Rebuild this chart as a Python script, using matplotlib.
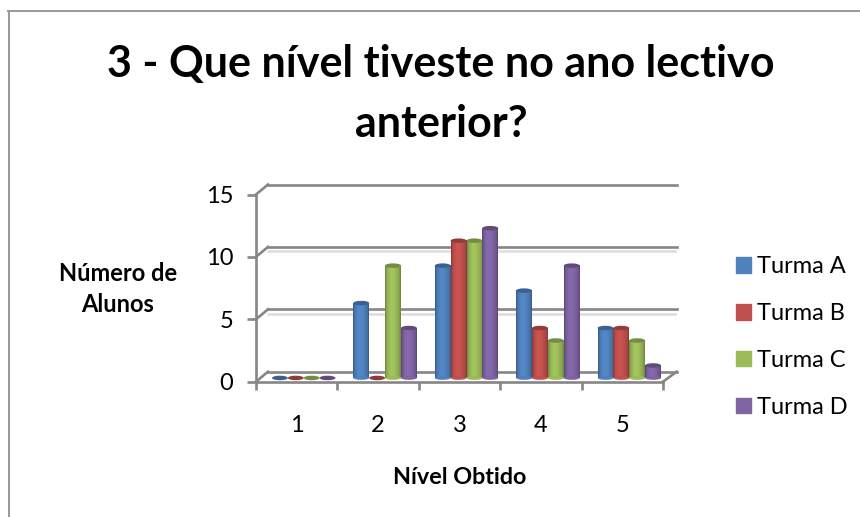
import matplotlib
matplotlib.use('Agg')
from matplotlib import pyplot as plt
from matplotlib.patches import Ellipse, Patch
from matplotlib.colors import to_rgb
from matplotlib.lines import Line2D
import numpy as np

niveis = ['1', '2', '3', '4', '5']
turmas = ['Turma A', 'Turma B', 'Turma C', 'Turma D']
turma_a = [0, 6, 9, 7, 4]
turma_b = [0, 0, 11, 4, 4]
turma_c = [0, 9, 11, 3, 3]
turma_d = [0, 4, 12, 9, 1]
cores = ['#4F81BD', '#C0504D', '#9BBB59', '#8064A2']

W, H = 860, 517
GREY = '#868686'
LW = 1.9

plt.rcParams['font.family'] = ['Lato', 'DejaVu Sans']

fig = plt.figure(figsize=(W/100, H/100), dpi=100)

# axes box is the front face of the 3d frame
left, right, bottom, top = 256, 663, 381.7, 194.5
ax = fig.add_axes([left/W, 1-bottom/H, (right-left)/W, (bottom-top)/H])
ax.patch.set_alpha(0)

# depth of the frame and of the bars, in data units
dx = 12/81.4
dy = 10/12.48
bar_dx = 7/81.4
bar_dy = 0.3
bar_w = 0.195


def shade(cor):
    # horizontal gradient that makes a bar look like a cylinder
    rgb = np.array(to_rgb(cor))
    pos = np.array([0, 0.1, 0.35, 0.6, 0.9, 1])
    k = np.array([0.72, 0.92, 1.06, 1.03, 0.88, 0.72])
    t = np.linspace(0, 1, 24)
    return np.clip(np.outer(np.interp(t, pos, k), rgb), 0, 1)[np.newaxis, :, :]


# back wall, floor edges and gridlines
for v in [0, 5, 10, 15]:
    if v in (5, 10):
        ax.plot([dx, 5+dx], [v+dy-0.35]*2, color='#DCDCDC', lw=1.8, zorder=1, clip_on=False)
    ax.plot([dx, 5+dx+0.02], [v+dy]*2, color=GREY, lw=LW, zorder=2, clip_on=False)
    ax.plot([0, dx], [v, v+dy], color=GREY, lw=LW, zorder=2, clip_on=False)
ax.plot([5, 5+dx+0.02], [0, dy], color=GREY, lw=LW, zorder=2, clip_on=False)

series = [turma_a, turma_b, turma_c, turma_d]
for i, (valores, cor) in enumerate(zip(series, cores)):
    escuro = np.array(to_rgb(cor))*0.75
    for n, v in enumerate(valores):
        x0 = n + 0.5 + bar_dx + (i-2)*bar_w
        base = bar_dy
        z = 3 + i*0.1 + n
        if v > 0:
            ax.imshow(shade(cor), extent=[x0, x0+bar_w, base, base+v], aspect='auto',
                      interpolation='bilinear', zorder=z, clip_on=False)
            ax.add_patch(Ellipse((x0+bar_w/2, base), bar_w, 0.3, color=cor, lw=0, zorder=z, clip_on=False))
        ax.add_patch(Ellipse((x0+bar_w/2, base+v), bar_w, 0.36, color=escuro, lw=0, zorder=z+0.05, clip_on=False))

ax.set_xlim(0, 5)
ax.set_ylim(0, 15)

for s in ['top', 'right']:
    ax.spines[s].set_visible(False)
for s in ['left', 'bottom']:
    ax.spines[s].set_color(GREY)
    ax.spines[s].set_linewidth(LW)
    ax.spines[s].set_zorder(2)

ax.set_yticks([0, 5, 10, 15])
ax.tick_params(axis='y', length=6.5, width=LW, color=GREY, labelsize=17, pad=10)
ax.set_xticks(range(6))
ax.set_xticklabels([])
ax.set_xticks(np.arange(5)+0.5, labels=niveis, minor=True)
ax.tick_params(axis='x', which='major', length=6, width=LW, color=GREY)
ax.tick_params(axis='x', which='minor', length=0, labelsize=17, pad=24)

fig.text(441/W, 1-94/H, '3 - Que nível tiveste no ano lectivo\nanterior?', ha='center', va='center',
         fontsize=31, fontweight='bold', linespacing=1.58)
fig.text(118/W, 1-289/H, 'Número de\nAlunos', ha='center', va='center', fontsize=17,
         fontweight='bold', linespacing=1.47)
fig.text(460/W, 1-477/H, 'Nível Obtido', ha='center', va='center', fontsize=16.8, fontweight='bold')

handles = [Patch(color=c) for c in cores]
fig.legend(handles, turmas, loc='center left', bbox_to_anchor=(736/W, 1-337/H), frameon=False,
           fontsize=17, handlelength=0.64, handleheight=0.64, handletextpad=0.25, labelspacing=1.1,
           borderpad=0, borderaxespad=0)

# chart area border, only its top and left edges are in frame
fig.add_artist(Line2D([8.5/W, 8.5/W], [0, 1-11/H], color='#989898', lw=1.4))
fig.add_artist(Line2D([8/W, 1], [1-11/H, 1-11/H], color='#989898', lw=1.4))

plt.savefig('out.png', dpi=100)
